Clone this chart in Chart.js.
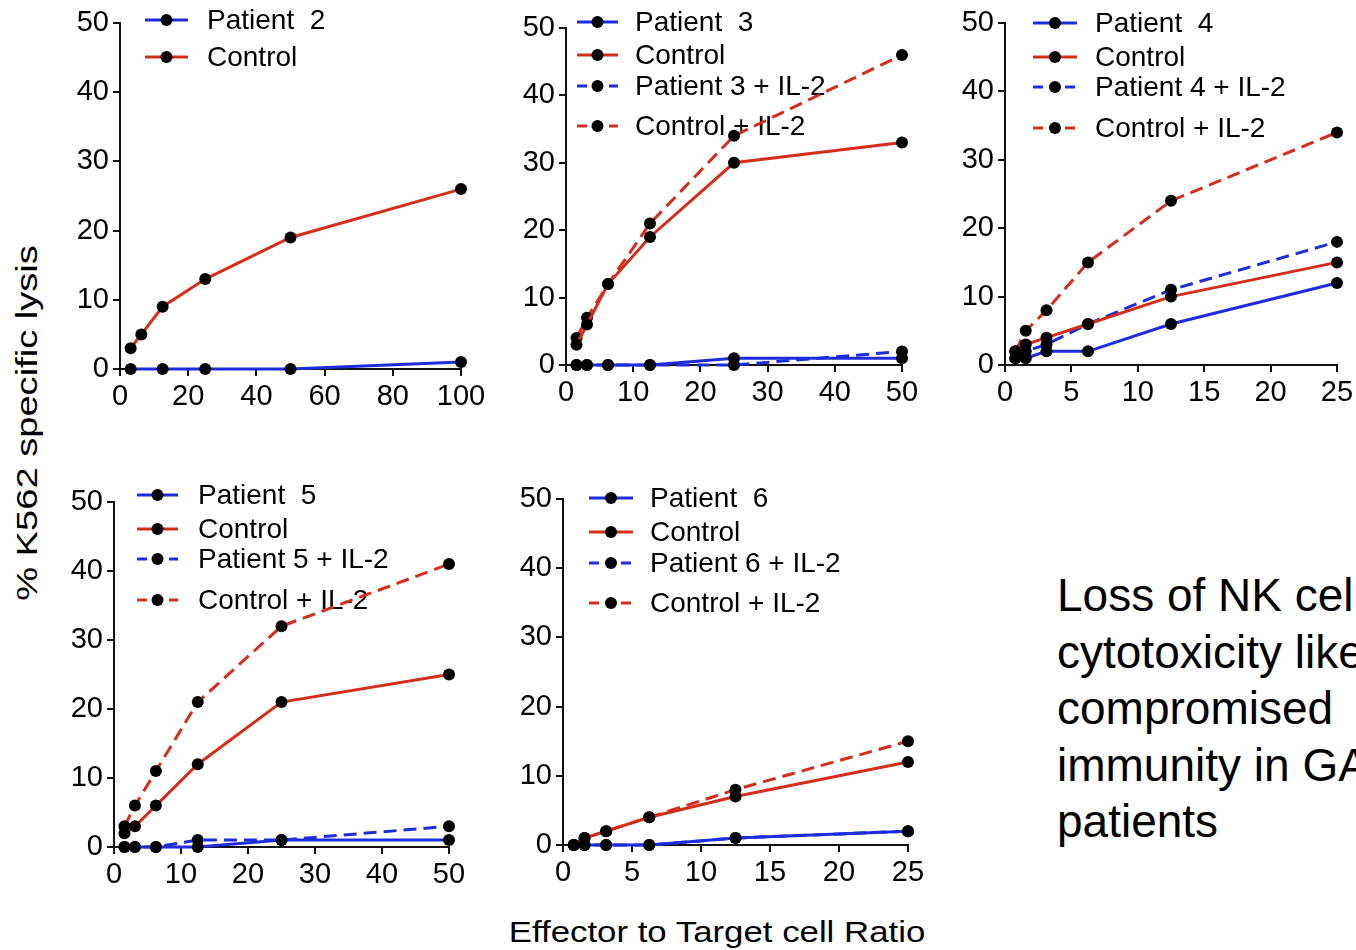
<!DOCTYPE html>
<html>
<head>
<meta charset="utf-8">
<script src="https://cdn.jsdelivr.net/npm/chart.js@4.4.1/dist/chart.umd.min.js"></script>
<style>
  body { margin: 0; background: #fff; overflow: hidden; }
  #page { position: relative; width: 1356px; height: 950px; overflow: hidden; font-family: 'Liberation Sans', Arial, sans-serif; color: #000; }
  #page canvas { position: absolute; }
  #ytitle { position: absolute; left: 27px; top: 423px; font-size: 30px; white-space: nowrap;
            transform: translate(-50%, -50%) rotate(-90deg) scaleX(1.27); }
  #xtitle { position: absolute; left: 717px; top: 932px; font-size: 29px; white-space: nowrap;
            transform: translate(-50%, -50%) scaleX(1.2); }
  #note { position: absolute; left: 1057px; top: 567px; font-size: 46px; line-height: 56.5px; white-space: nowrap; }
</style>
</head>
<body>
<div id="page">
  <div id="ytitle">% K562 specific lysis</div>
  <div id="xtitle">Effector to Target cell Ratio</div>
  <div id="note">Loss of NK cell<br>cytotoxicity likely<br>compromised<br>immunity in GATA2<br>patients</div>
</div>
<script>
// E:T ratios
const ratiosP2 = [3.125, 12.5, 25, 50, 100];
const ratiosC2 = [3.125, 6.25, 12.5, 25, 50, 100];
const ratios50 = [1.5625, 3.125, 6.25, 12.5, 25, 50];
const ratios25 = [0.78125, 1.5625, 3.125, 6.25, 12.5, 25];

// % specific lysis
const patient2 = [0, 0, 0, 0, 1];
const control2 = [3, 5, 9, 13, 19, 26];

const patient3 = [0, 0, 0, 0, 1, 1];
const control3 = [3, 6, 12, 19, 30, 33];
const patient3IL2 = [0, 0, 0, 0, 0, 2];
const control3IL2 = [4, 7, 12, 21, 34, 46];

const patient4 = [1, 1, 2, 2, 6, 12];
const control4 = [2, 3, 4, 6, 10, 15];
const patient4IL2 = [1, 2, 3, 6, 11, 18];
const control4IL2 = [2, 5, 8, 15, 24, 34];

const patient5 = [0, 0, 0, 0, 1, 1];
const control5 = [2, 3, 6, 12, 21, 25];
const patient5IL2 = [0, 0, 0, 1, 1, 3];
const control5IL2 = [3, 6, 11, 21, 32, 41];

const patient6 = [0, 0, 0, 0, 1, 2];
const control6 = [0, 1, 2, 4, 7, 12];
const patient6IL2 = [0, 0, 0, 0, 1, 2];
const control6IL2 = [0, 1, 2, 4, 8, 15];

const yMax = 50, yStep = 10;

const BLUE = 'rgb(30, 44, 222)';
const RED = 'rgb(212, 46, 26)';
const FONT = "'Liberation Sans', Arial, sans-serif";
const DASH = [13, 7];

const Y_AXIS_W = 70, X_AXIS_H = 55, PAD_T = 30, PAD_R = 40;

function series(label, xs, ys, color, dashed) {
  return {
    label: label,
    data: xs.map((x, i) => ({ x: x, y: ys[i] })),
    borderColor: color,
    borderWidth: 3,
    borderDash: dashed ? DASH : [],
    pointRadius: 6,
    pointBackgroundColor: '#000',
    pointBorderColor: '#000',
    pointBorderWidth: 0,
    tension: 0,
    fill: false,
    clip: false
  };
}

// legend drawn inside the plot, the way the figure has it
const insideLegend = {
  id: 'insideLegend',
  beforeDatasetsDraw(chart, args, opts) {
    const ctx = chart.ctx;
    const a = chart.chartArea;
    ctx.save();
    chart.data.datasets.forEach((ds, i) => {
      const y = a.top + opts.rows[i];
      ctx.strokeStyle = ds.borderColor;
      ctx.lineWidth = 3;
      ctx.setLineDash(ds.borderDash.length ? [10, 6] : []);
      ctx.beginPath();
      ctx.moveTo(a.left + opts.lineFrom, y);
      ctx.lineTo(a.left + opts.lineTo, y);
      ctx.stroke();
      ctx.setLineDash([]);
      ctx.fillStyle = '#000';
      ctx.beginPath();
      ctx.arc(a.left + (opts.lineFrom + opts.lineTo) / 2, y, 6, 0, Math.PI * 2);
      ctx.fill();
      ctx.font = '28px ' + FONT;
      ctx.textBaseline = 'middle';
      ctx.textAlign = 'left';
      ctx.fillText(ds.label, a.left + opts.textX, y + 1);
    });
    ctx.restore();
  }
};

function makePanel(p) {
  const cv = document.createElement('canvas');
  const w = Y_AXIS_W + (p.right - p.left) + PAD_R;
  const h = PAD_T + (p.bottom - p.top) + X_AXIS_H;
  cv.width = w; cv.height = h;
  cv.style.width = w + 'px'; cv.style.height = h + 'px';
  cv.style.left = (p.left - Y_AXIS_W) + 'px';
  cv.style.top = (p.top - PAD_T) + 'px';
  document.getElementById('page').appendChild(cv);

  const axisBits = {
    grid: { display: true, drawOnChartArea: false, drawTicks: true, tickLength: 7, color: '#111', lineWidth: 2 },
    border: { display: true, color: '#111', width: 2 }
  };

  new Chart(cv, {
    type: 'line',
    data: { datasets: p.datasets },
    options: {
      responsive: false,
      animation: false,
      layout: { padding: { top: PAD_T, right: PAD_R, left: 0, bottom: 0 } },
      plugins: {
        legend: { display: false },
        tooltip: { enabled: false },
        insideLegend: p.legend
      },
      scales: {
        x: Object.assign({
          type: 'linear', min: 0, max: p.xMax,
          ticks: { stepSize: p.xStep, color: '#000', font: { size: 29, family: FONT }, padding: 4, maxRotation: 0, autoSkip: false },
          afterFit: s => { s.height = X_AXIS_H; }
        }, axisBits),
        y: Object.assign({
          type: 'linear', min: 0, max: yMax,
          ticks: { stepSize: yStep, color: '#000', font: { size: 29, family: FONT }, padding: 4 },
          afterFit: s => { s.width = Y_AXIS_W; }
        }, axisBits)
      }
    },
    plugins: [insideLegend]
  });
}

makePanel({
  left: 120, top: 23, right: 461, bottom: 369, xMax: 100, xStep: 20,
  legend: { lineFrom: 25, lineTo: 68, textX: 87, rows: [-3, 34] },
  datasets: [
    series('Patient  2', ratiosP2, patient2, BLUE, false),
    series('Control', ratiosC2, control2, RED, false)
  ]
});

makePanel({
  left: 566, top: 28, right: 902, bottom: 365, xMax: 50, xStep: 10,
  legend: { lineFrom: 11, lineTo: 52, textX: 69, rows: [-6, 27, 58, 98] },
  datasets: [
    series('Patient  3', ratios50, patient3, BLUE, false),
    series('Control', ratios50, control3, RED, false),
    series('Patient 3 + IL-2', ratios50, patient3IL2, BLUE, true),
    series('Control + IL-2', ratios50, control3IL2, RED, true)
  ]
});

makePanel({
  left: 1005, top: 23, right: 1337, bottom: 365, xMax: 25, xStep: 5,
  legend: { lineFrom: 28, lineTo: 72, textX: 90, rows: [0, 34, 64, 105] },
  datasets: [
    series('Patient  4', ratios25, patient4, BLUE, false),
    series('Control', ratios25, control4, RED, false),
    series('Patient 4 + IL-2', ratios25, patient4IL2, BLUE, true),
    series('Control + IL-2', ratios25, control4IL2, RED, true)
  ]
});

makePanel({
  left: 114, top: 502, right: 449, bottom: 847, xMax: 50, xStep: 10,
  legend: { lineFrom: 23, lineTo: 64, textX: 84, rows: [-7, 27, 57, 98] },
  datasets: [
    series('Patient  5', ratios50, patient5, BLUE, false),
    series('Control', ratios50, control5, RED, false),
    series('Patient 5 + IL-2', ratios50, patient5IL2, BLUE, true),
    series('Control + IL-2', ratios50, control5IL2, RED, true)
  ]
});

makePanel({
  left: 563, top: 499, right: 908, bottom: 845, xMax: 25, xStep: 5,
  legend: { lineFrom: 26, lineTo: 70, textX: 87, rows: [-1, 33, 64, 104] },
  datasets: [
    series('Patient  6', ratios25, patient6, BLUE, false),
    series('Control', ratios25, control6, RED, false),
    series('Patient 6 + IL-2', ratios25, patient6IL2, BLUE, true),
    series('Control + IL-2', ratios25, control6IL2, RED, true)
  ]
});
</script>
</body>
</html>
